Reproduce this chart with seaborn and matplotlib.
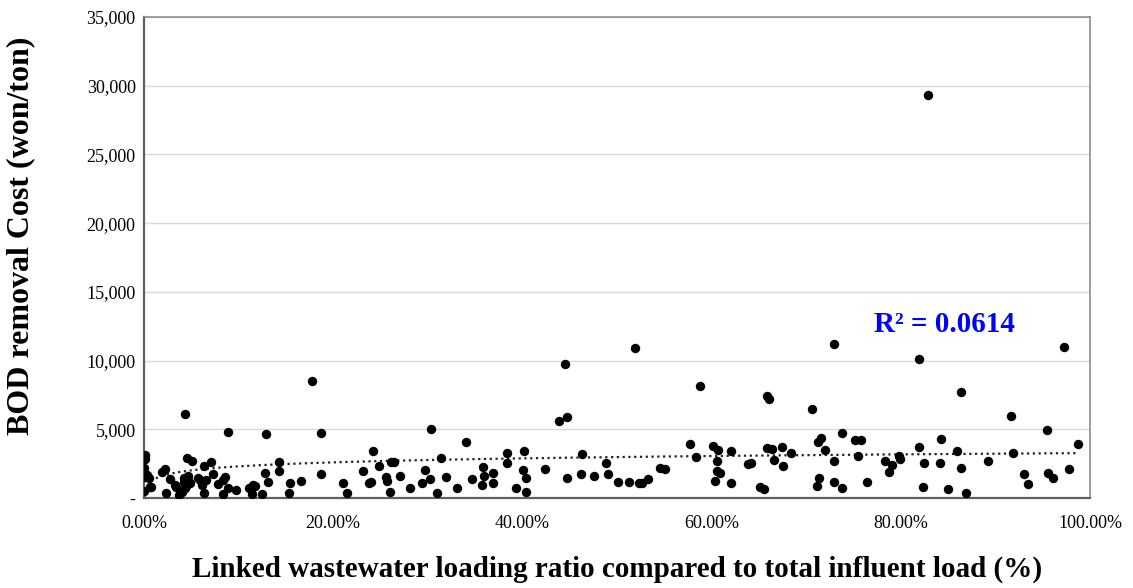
import numpy as np
import pandas as pd
import matplotlib
matplotlib.use("Agg")
import matplotlib.pyplot as plt
import seaborn as sns
from matplotlib.ticker import PercentFormatter, FuncFormatter

# ---- data (x in %, y in won/ton) ----
ratio_pct = [
    0.1, 0.1, 0.05, 0.1, 0.5, 0.7, 0.05, 0.6, 0.3,
    1.9, 2.2, 2.7, 2.3, 3.4, 3.7, 3.3, 4.2, 4.5, 5.1, 4.7, 4.3, 4.9, 4.0, 4.2, 4.7, 4.4,
    5.9, 5.7, 6.3, 6.1, 6.3, 7.1, 7.3, 6.6, 7.8, 8.6, 8.3, 8.4, 8.9, 9.7,
    11.1, 11.4, 11.7, 11.5, 12.5, 12.8, 13.1, 14.3, 14.3, 15.4, 15.3, 16.6, 18.7,
    4.3, 8.9, 12.9, 18.7, 17.8,
    21.0, 21.5, 23.2, 23.8, 24.0, 24.2, 24.8, 25.6, 25.7, 26.1, 26.4, 26.0, 27.1,
    28.1, 29.4, 29.7, 30.2, 30.3, 31.0, 31.4, 31.9, 33.1, 34.0, 34.7, 35.7, 35.8,
    35.9, 36.9, 36.9, 38.4, 38.4, 39.3, 40.2, 40.1, 40.4, 40.4,
    42.4, 44.5, 43.9, 44.7, 44.7, 46.3, 46.2, 47.6, 48.8, 49.0, 50.1, 51.3, 51.9,
    52.3, 52.6, 53.3, 54.5, 55.1, 57.7, 58.3, 58.8, 60.1, 60.7, 60.6, 60.6, 60.9, 60.4,
    62.1, 62.1, 63.9, 64.2, 65.1, 65.5, 65.9, 66.1, 65.9, 66.4, 66.6, 67.4, 67.6, 68.4,
    70.6, 71.2, 71.6, 72.0, 71.4, 71.1, 72.9, 72.9, 72.9, 73.8, 73.8, 75.2, 75.8, 75.5,
    76.4, 78.3, 79.1, 78.7, 79.8, 79.9,
    81.9, 81.9, 82.4, 82.3, 84.1, 84.3, 85.0, 85.9, 86.4, 86.4, 86.9, 89.2, 91.7,
    91.9, 93.0, 93.4, 95.5, 95.6, 96.1, 97.3, 97.8, 98.7, 82.9,
]
bod_cost = [
    3139, 2820, 2168, 1555, 1440, 825, 511, 780, 1700,
    1920, 2095, 1387, 387, 825, 219, 970, 1190, 2942, 2700, 1314, 708, 1073, 460, 1460, 1600, 850,
    1314, 1460, 2336, 949, 387, 2606, 1730, 1314, 1022, 1555, 1314, 270, 708, 584,
    708, 292, 876, 930, 292, 1803, 1190, 2606, 1970, 1073, 387, 1263, 1730,
    6131, 4818, 4650, 4720, 8490,
    1117, 387, 1993, 1117, 1190, 3431, 2336, 1555, 1263, 2606, 2620, 460, 1628,
    752, 1073, 2044, 1365, 5015, 387, 2898, 1555, 752, 4110, 1365, 949, 2241,
    1606, 1847, 1117, 3307, 2577, 752, 3431, 2044, 1438, 460,
    2095, 9781, 5620, 5890, 1438, 3212, 1730, 1628, 2577, 1730, 1168, 1168, 10927,
    1073, 1073, 1365, 2212, 2095, 3920, 2971, 8175, 3818, 3504, 2700, 1993, 1803, 1263,
    3453, 1073, 2460, 2533, 781, 635, 7394, 7204, 3628, 3555, 2774, 3745, 2336, 3307,
    6496, 4110, 4358, 3504, 1438, 876, 11190, 2700, 1190, 4723, 752, 4234, 4234, 3066,
    1190, 2723, 2409, 1876, 3066, 2825,
    10124, 3700, 2577, 825, 2577, 4285, 635, 3431, 7737, 2168, 387, 2700, 5964,
    3307, 1730, 1022, 4912, 1847, 1482, 11022, 2095, 3920, 29300,
]

# logarithmic trend line (y = a*ln(x) + b)
trend_a = 420.0
trend_b = 3270.0
r2_label = "R² = 0.0614"

x_ticks = [0.0, 0.2, 0.4, 0.6, 0.8, 1.0]
y_ticks = [0, 5000, 10000, 15000, 20000, 25000, 30000, 35000]

df = pd.DataFrame({"ratio": np.array(ratio_pct) / 100.0, "cost": bod_cost})

sns.set_theme(style="white")
plt.rcParams["font.family"] = ["Liberation Serif", "DejaVu Serif"]
plt.rcParams["text.color"] = "black"
plt.rcParams["axes.labelcolor"] = "black"

fig = plt.figure(figsize=(11.33, 5.88), dpi=100)
ax = fig.add_axes([144 / 1133, 1 - 498 / 588, (1090 - 144) / 1133, (498 - 17) / 588])

ax.yaxis.grid(True, color="#d9d9d9", linewidth=1.0)
ax.set_axisbelow(True)

sns.scatterplot(data=df, x="ratio", y="cost", ax=ax, color="black", s=46,
                edgecolor="black", linewidth=0, zorder=3, legend=False)

xt = np.linspace(df["ratio"].min(), df["ratio"].max(), 400)
yt = trend_a * np.log(xt) + trend_b
ax.plot(xt, yt, linestyle=(0, (1, 1.6)), color="#222222", linewidth=1.6, zorder=2)

ax.set_xlim(0, 1)
ax.set_ylim(0, 35000)
ax.set_xticks(x_ticks)
ax.set_yticks(y_ticks)
ax.xaxis.set_major_formatter(PercentFormatter(xmax=1, decimals=2))
ax.yaxis.set_major_formatter(FuncFormatter(lambda v, p: "-" if v == 0 else f"{int(v):,}"))
ax.tick_params(axis="both", length=0, labelsize=13, colors="#404040", labelcolor="black")
ax.tick_params(axis="x", pad=12)
ax.tick_params(axis="y", pad=6)

for side in ["top", "right"]:
    ax.spines[side].set_color("#8c8c8c")
    ax.spines[side].set_linewidth(1.2)
for side in ["left", "bottom"]:
    ax.spines[side].set_color("#606060")
    ax.spines[side].set_linewidth(1.6)

ax.set_xlabel("Linked wastewater loading ratio compared to total influent load (%)",
              fontsize=21, fontweight="bold", labelpad=17, color="black")
ax.set_ylabel("BOD removal Cost (won/ton)", fontsize=23, fontweight="bold", color="black")
ax.yaxis.set_label_coords(-0.115, 0.545)

ax.text(0.772, 12600, r2_label, color="#0000ff", fontsize=21, fontweight="bold",
        ha="left", va="center")

fig.savefig("out.png", dpi=100)
